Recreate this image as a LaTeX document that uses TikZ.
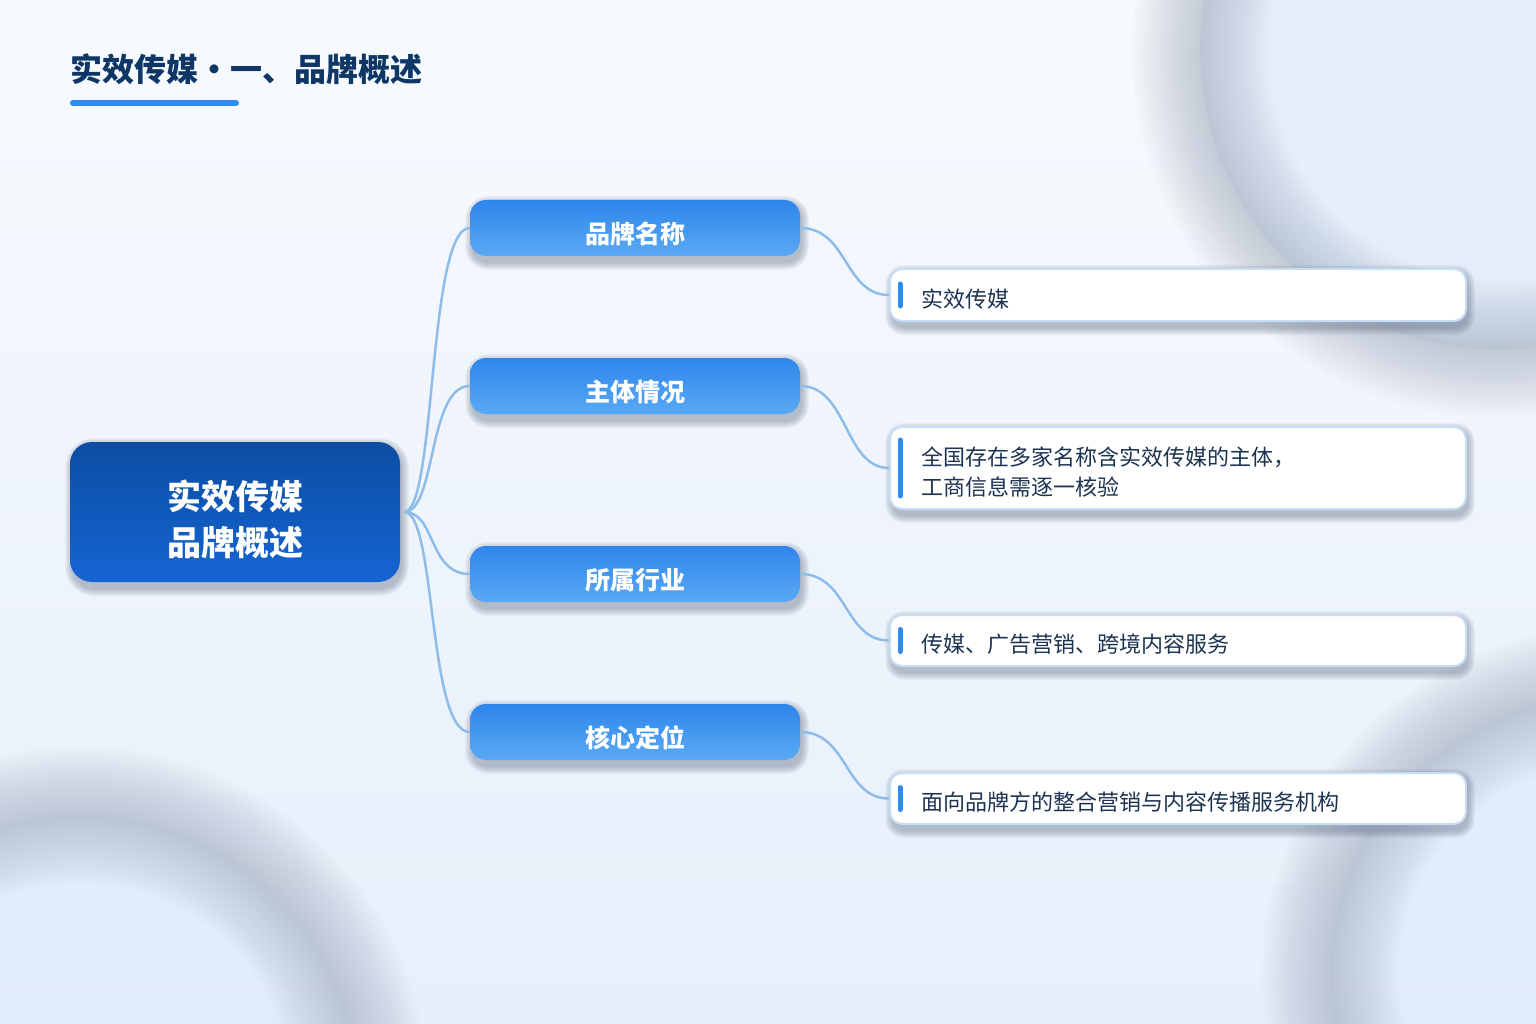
\documentclass[tikz,border=0pt]{standalone}
\usepackage{fontspec}
\newfontfamily\cjk{Noto Sans CJK SC}
\usetikzlibrary{calc}
\definecolor{bgTop}{HTML}{F7FAFE}
\definecolor{bgBot}{HTML}{E7EFFB}
\definecolor{innerc}{HTML}{E0ECFB}
\definecolor{ringc}{HTML}{8894A8}
\definecolor{rootTop}{HTML}{0B4DA2}
\definecolor{rootBot}{HTML}{1565D4}
\definecolor{brTop}{HTML}{2E86EB}
\definecolor{brBot}{HTML}{5AA9F4}
\definecolor{leafBorder}{HTML}{C6DDF5}
\definecolor{linkc}{HTML}{8EBDE9}
\definecolor{accentc}{HTML}{2F8BEE}
\definecolor{titlec}{HTML}{0E3766}
\definecolor{leafText}{HTML}{1D3352}
\definecolor{shadowc}{HTML}{4A5870}
\newcommand\softshadow[5]{%
  \foreach \k in {0,...,7}{%
    \pgfmathsetmacro\rr{#5+\k}%
    \fill[shadowc, opacity=0.05, rounded corners=\rr pt] ({#1+2-\k},{#2+3-\k}) rectangle ({#3+2+\k},{#4+7+\k});
  }}
\newcommand\bgring[3]{%
  \fill[innerc, opacity=0.75] (#1,#2) circle[radius=#3 pt];
  \foreach \w in {136,128,...,8}{%
    \draw[ringc, line width=\w pt, opacity=0.028] (#1,#2) circle[radius=#3 pt];}}
\tikzset{
  rootbox/.style={rounded corners=22pt, minimum width=330pt, minimum height=140pt,
    top color=rootTop, bottom color=rootBot, draw=none, inner sep=0pt},
  roottext/.style={text=white, font=\cjk\bfseries\fontsize{34}{46}\selectfont, align=center, inner sep=0pt},
  branchbox/.style={rounded corners=16pt, minimum width=330pt, minimum height=56pt,
    top color=brTop, bottom color=brBot, draw=none, inner sep=0pt},
  branchtext/.style={text=white, font=\cjk\bfseries\fontsize{25}{30}\selectfont, inner sep=0pt},
  leafbox/.style={rounded corners=12pt, fill=white, draw=leafBorder, line width=2pt,
    minimum width=576pt, inner sep=0pt},
  leaftext/.style={text=leafText, font=\cjk\fontsize{22}{30}\selectfont,
    align=left, inner sep=0pt, anchor=west},
  link/.style={draw=linkc, line width=2.5pt},
  accent/.style={draw=accentc, line width=5pt, line cap=round},
}
\begin{document}
\begin{tikzpicture}[x=1pt,y=-1pt]
\useasboundingbox (0,0) rectangle (1536,1024);
\begin{scope}
\clip (0,0) rectangle (1536,1024);
\shade[top color=bgTop, bottom color=bgBot] (0,0) rectangle (1536,1024);
\bgring{1500}{50}{300}
\bgring{80}{1095}{280}
\bgring{1610}{975}{280}
\end{scope}

% title
\node[anchor=base west, inner sep=0pt, text=titlec, font=\cjk\bfseries\fontsize{32}{36}\selectfont] (title) at (70,82) {实效传媒・一、品牌概述};
\draw[accent, line width=6pt] (73,103) -- (236,103);

% shadows
\softshadow{70}{442}{400}{582}{22}
\foreach \y in {228,386,574,732}{\softshadow{470}{\y-28}{800}{\y+28}{16}}
\softshadow{890}{269}{1466}{321}{12}
\softshadow{890}{427}{1466}{509}{12}
\softshadow{890}{615}{1466}{666}{12}
\softshadow{890}{773}{1466}{824}{12}

% boxes
\node[rootbox] (root) at (235,512) {};
\node[branchbox] (b1) at (635,228) {};
\node[branchbox] (b2) at (635,386) {};
\node[branchbox] (b3) at (635,574) {};
\node[branchbox] (b4) at (635,732) {};
\node[leafbox, minimum height=52pt] (l1) at (1178,295) {};
\node[leafbox, minimum height=82pt] (l2) at (1178,468) {};
\node[leafbox, minimum height=51pt] (l3) at (1178,640.5) {};
\node[leafbox, minimum height=51pt] (l4) at (1178,798.5) {};

% texts
\node[roottext] (roott) at ($(root.center)+(0,7)$) {实效传媒\\品牌概述};
\node[branchtext] (b1t) at ($(b1.center)+(0,6)$) {品牌名称};
\node[branchtext] (b2t) at ($(b2.center)+(0,6)$) {主体情况};
\node[branchtext] (b3t) at ($(b3.center)+(0,6)$) {所属行业};
\node[branchtext] (b4t) at ($(b4.center)+(0,6)$) {核心定位};
\node[leaftext] (l1t) at ($(l1.west)+(32.5,4)$) {实效传媒};
\node[leaftext] (l2t) at ($(l2.west)+(32.5,4)$) {全国存在多家名称含实效传媒的主体，\\工商信息需逐一核验};
\node[leaftext] (l3t) at ($(l3.west)+(32.5,4)$) {传媒、广告营销、跨境内容服务};
\node[leaftext] (l4t) at ($(l4.west)+(32.5,4)$) {面向品牌方的整合营销与内容传播服务机构};

% accents
\foreach \n in {l1,l3,l4}{\draw[accent] ($(\n.west)+(11,-11)$) -- ($(\n.west)+(11,11)$);}
\draw[accent] ($(l2.west)+(11,-28)$) -- ($(l2.west)+(11,28)$);

% connectors
\foreach \b in {b1,b2,b3,b4}{\draw[link] ($(root.east)+(4,0)$) .. controls +(32,0) and +(-42,0) .. (\b.west);}
\foreach \b/\l in {b1/l1,b2/l2,b3/l3,b4/l4}{\draw[link] (\b.east) .. controls +(48,0) and +(-45,0) .. (\l.west);}
\end{tikzpicture}
\end{document}
